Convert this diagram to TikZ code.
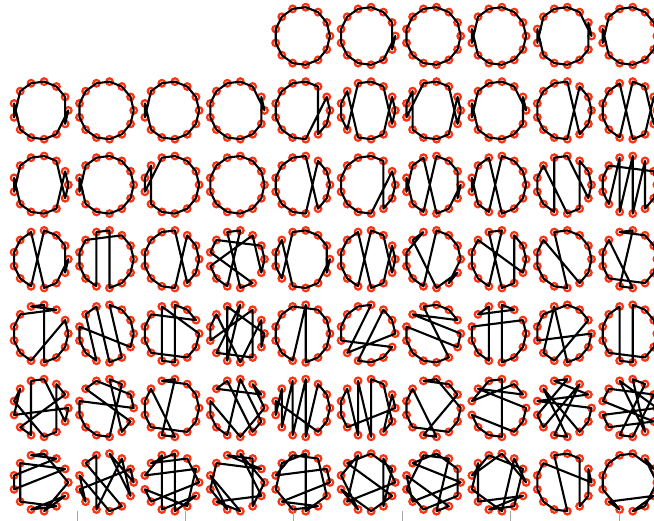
\documentclass[tikz,border=0pt]{standalone}
\definecolor{mk}{RGB}{252,50,18}
\tikzset{
 vtx/.style={circle, draw=mk, line width=2.2pt, minimum size=6.6pt, inner sep=0pt},
 edge/.style={black, line width=2.1pt, line join=round, line cap=round},
 axtick/.style={gray!70, line width=0.8pt}
}
\newcommand\tourg[4]{%
  \pgfmathsetmacro\gx{40.8+65.4*#2}%
  \pgfmathsetmacro\gy{36+74.4*#1}%
  \foreach \k in {0,...,12}{%
    \node[vtx] (g#1#2-\k) at ({\gx+27.5*cos(360*\k/13)},{\gy-29*sin(360*\k/13)}) {};
  }%
  \draw[edge] (g#1#2-#3.center) \foreach \k in {#4}{ -- (g#1#2-\k.center)} -- cycle;
}
\begin{document}
\begin{tikzpicture}[x=1pt,y=-1pt]
\useasboundingbox (0,0) rectangle (654,521);
\clip (0,0) rectangle (654,521);
% row 0
\tourg{0}{4}{0}{1,2,3,4,5,6,7,8,9,10,11,12}
\tourg{0}{5}{1}{2,3,4,5,6,7,8,9,10,11,0,12}
\tourg{0}{6}{0}{1,2,3,4,5,6,7,8,9,10,11,12}
\tourg{0}{7}{0}{1,2,3,4,5,7,6,8,9,10,11,12}
\tourg{0}{8}{1}{0,2,3,4,5,7,6,8,9,10,11,12}
\tourg{0}{9}{0}{1,2,3,4,5,7,6,8,9,10,11,12}
% row 1
\tourg{1}{0}{1}{2,3,4,5,7,6,8,9,10,11,0,12}
\tourg{1}{1}{0}{1,2,3,4,5,6,7,8,9,10,11,12}
\tourg{1}{2}{0}{1,2,3,4,5,7,6,8,9,10,11,12}
\tourg{1}{3}{1}{0,2,3,4,5,6,7,8,9,10,11,12}
\tourg{1}{4}{2}{3,4,5,6,7,8,9,10,1,0,12,11}
\tourg{1}{5}{2}{3,4,8,7,6,5,9,10,11,1,0,12}
\tourg{1}{6}{2}{3,4,7,6,5,8,9,10,11,1,0,12}
\tourg{1}{7}{1}{0,2,3,4,5,7,6,8,9,10,11,12}
\tourg{1}{8}{0}{1,2,10,9,8,7,6,5,4,3,11,12}
\tourg{1}{9}{3}{9,8,7,6,5,4,10,11,1,0,12,2}
% row 2
\tourg{2}{0}{2}{3,4,5,7,6,8,9,10,11,1,0,12}
\tourg{2}{1}{0}{1,2,3,4,5,7,6,8,9,10,11,12}
\tourg{2}{2}{0}{1,2,3,4,7,6,5,8,9,10,11,12}
\tourg{2}{3}{0}{1,2,3,4,5,6,7,8,9,10,11,12}
\tourg{2}{4}{3}{4,5,6,7,8,9,10,2,1,0,12,11}
\tourg{2}{5}{2}{3,4,5,6,7,8,9,10,1,0,12,11}
\tourg{2}{6}{1}{2,3,9,8,6,7,5,4,10,11,0,12}
\tourg{2}{7}{0}{1,2,3,9,8,6,7,5,4,10,11,12}
\tourg{2}{8}{0}{1,2,11,10,5,6,7,8,9,4,3,12}
\tourg{2}{9}{5}{6,7,8,4,9,3,10,2,11,12,0,1}
% row 3
\tourg{3}{0}{1}{2,3,9,8,7,6,5,4,10,11,0,12}
\tourg{3}{1}{0}{1,2,5,6,7,8,9,4,3,10,11,12}
\tourg{3}{2}{0}{1,2,10,9,8,7,6,5,4,3,11,12}
\tourg{3}{3}{0}{1,5,6,11,10,4,3,9,8,7,2,12}
\tourg{3}{4}{1}{2,3,4,8,7,6,5,9,10,11,0,12}
\tourg{3}{5}{2}{3,9,8,7,6,5,4,10,11,1,0,12}
\tourg{3}{6}{0}{1,2,3,9,8,7,6,4,5,10,12,11}
\tourg{3}{7}{0}{1,2,11,10,4,3,9,8,7,6,5,12}
\tourg{3}{8}{1}{2,3,4,10,9,8,7,6,5,11,12,0}
\tourg{3}{9}{0}{1,2,4,3,9,10,5,6,7,8,11,12}
% row 4
\tourg{4}{0}{4}{3,10,11,12,0,1,9,8,7,6,5,2}
\tourg{4}{1}{0}{1,2,3,11,10,4,5,9,8,7,6,12}
\tourg{4}{2}{4}{9,10,3,2,1,5,6,7,8,11,12,0}
\tourg{4}{3}{0}{4,9,3,8,11,2,7,6,5,10,1,12}
\tourg{4}{4}{4}{5,6,7,8,9,3,10,11,12,0,1,2}
\tourg{4}{5}{0}{1,2,9,10,11,12,7,6,5,4,3,8}
\tourg{4}{6}{5}{1,2,3,4,11,10,9,8,7,6,12,0}
\tourg{4}{7}{3}{10,11,12,0,1,6,7,8,9,4,5,2}
\tourg{4}{8}{4}{10,11,12,0,7,6,5,3,2,1,9,8}
\tourg{4}{9}{0}{1,2,3,10,9,4,5,6,7,8,11,12}
% row 5
\tourg{5}{0}{0}{12,3,4,9,8,1,2,11,10,6,5,7}
\tourg{5}{1}{6}{0,1,4,5,12,11,3,2,10,9,8,7}
\tourg{5}{2}{0}{1,2,4,3,9,10,5,6,7,8,11,12}
\tourg{5}{3}{0}{2,1,5,4,11,12,3,9,8,7,6,10}
\tourg{5}{4}{0}{1,2,10,3,9,4,8,5,7,6,11,12}
\tourg{5}{5}{0}{1,11,12,2,3,10,4,9,5,6,7,8}
\tourg{5}{6}{0}{3,4,2,1,9,10,5,6,7,8,11,12}
\tourg{5}{7}{0}{5,1,2,6,4,3,10,9,8,7,11,12}
\tourg{5}{8}{0}{6,1,4,3,7,8,2,9,10,5,11,12}
\tourg{5}{9}{0}{4,11,3,2,9,10,1,5,6,12,8,7}
% row 6
\tourg{6}{0}{3}{4,2,6,7,1,5,8,11,9,12,10,0}
\tourg{6}{1}{0}{3,12,2,9,4,5,11,10,6,8,7,1}
\tourg{6}{2}{0}{2,5,3,10,12,9,4,6,1,11,7,8}
\tourg{6}{3}{0}{11,2,4,1,5,7,9,6,10,8,12,3}
\tourg{6}{4}{0}{1,6,4,2,12,10,3,5,7,9,11,8}
\tourg{6}{5}{0}{2,11,1,3,5,12,10,7,9,6,4,8}
\tourg{6}{6}{0}{5,3,1,12,9,7,4,2,10,11,6,8}
\tourg{6}{7}{0}{3,6,4,1,11,9,12,8,5,7,10,2}
\tourg{6}{8}{0}{1,12,11,2,3,4,10,9,8,7,6,5}
\tourg{6}{9}{0}{2,1,3,4,5,6,7,9,8,12,10,11}
% axis ticks at the bottom
\foreach \t in {77,185.4,293.8,402.2,510.6,619} {
  \draw[axtick] (\t,511) -- (\t,521);
}
\end{tikzpicture}
\end{document}
